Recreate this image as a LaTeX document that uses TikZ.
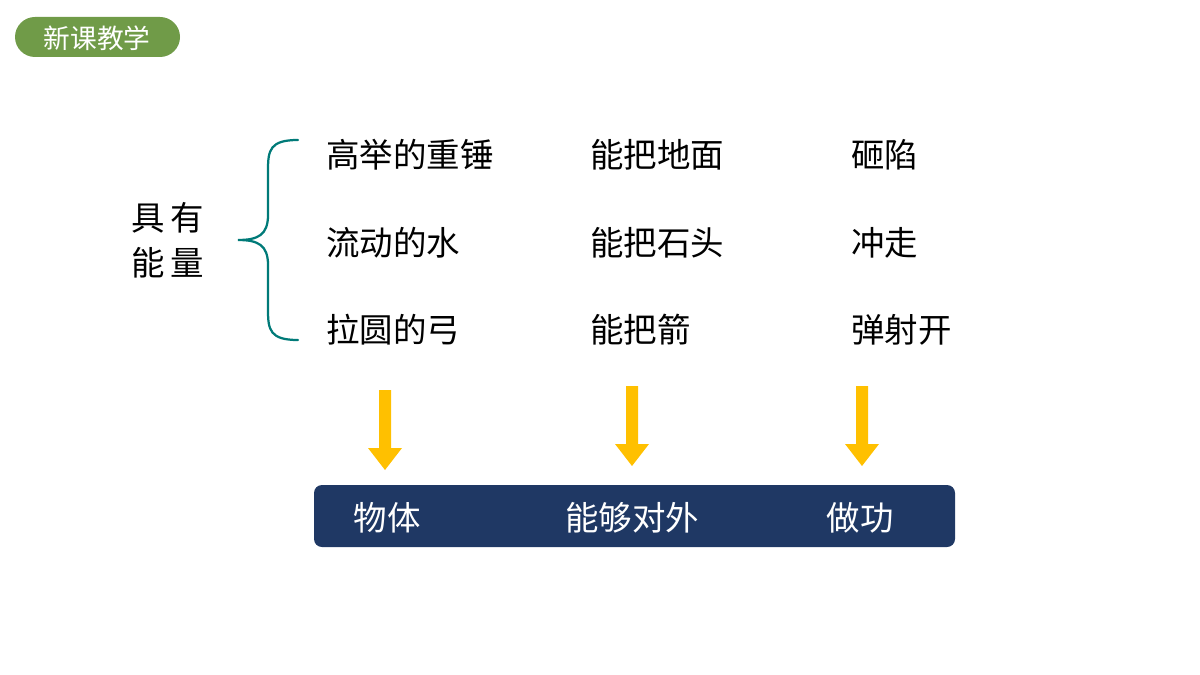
\documentclass[tikz,border=0pt]{standalone}
\usepackage{fontspec}
\newfontfamily\cjk{Noto Sans CJK SC}
\usetikzlibrary{positioning}
\definecolor{tagGreen}{RGB}{112,155,72}
\definecolor{braceTeal}{RGB}{0,122,120}
\definecolor{arrowGold}{RGB}{255,192,0}
\definecolor{boxNavy}{RGB}{31,56,100}
\tikzset{
  word/.style={anchor=west,inner sep=0pt,font=\cjk\fontsize{23.8}{28}\selectfont},
  boxword/.style={inner sep=0pt,text=white,font=\cjk\fontsize{23.8}{28}\selectfont},
}
\begin{document}
\begin{tikzpicture}[x=0.025cm,y=-0.025cm]
\useasboundingbox (0,0) rectangle (1200,675);
% tag
\fill[tagGreen,rounded corners=20*0.025cm] (15,17) rectangle (180,57);
\node[text=white,font=\cjk\fontsize{19}{22}\selectfont] (tag) at (97,38) {新课教学};
% left label and brace
\node[align=center,font=\cjk\fontsize{23.8}{32}\selectfont] (energy) at (168,240) {具\,有\\能\,量};
\draw[braceTeal,line width=1.6pt,line cap=round] (298,140) .. controls (270,140) and (268,150) .. (268,170)
  -- (268,215) .. controls (268,235) and (258,240) .. (238,240)
  .. controls (258,240) and (268,245) .. (268,265) -- (268,310)
  .. controls (268,330) and (270,340) .. (298,340);
% rows
\node[word] (r1a) at (326,155) {高举的重锤};
\node[word] (r1b) at (590,155) {能把地面};
\node[word] (r1c) at (851,155) {砸陷};
\node[word] (r2a) at (326,243) {流动的水};
\node[word] (r2b) at (590,243) {能把石头};
\node[word] (r2c) at (851,243) {冲走};
\node[word] (r3a) at (326,330) {拉圆的弓};
\node[word] (r3b) at (590,330) {能把箭};
\node[word] (r3c) at (851,330) {弹射开};
% arrows
\foreach \x/\t in {385/390,632/386,862/386}{
  \fill[arrowGold] (\x-6,\t) -- (\x+6,\t) -- (\x+6,\t+58) -- (\x+17,\t+58) -- (\x,\t+80)
    -- (\x-17,\t+58) -- (\x-6,\t+58) -- cycle;
}
% bottom box
\fill[boxNavy,rounded corners=8*0.025cm] (314,485) rectangle (955,547);
\node[boxword] (b1) at (387,518) {物体};
\node[boxword] (b2) at (632,518) {能够对外};
\node[boxword] (b3) at (860,518) {做功};
\end{tikzpicture}
\end{document}
